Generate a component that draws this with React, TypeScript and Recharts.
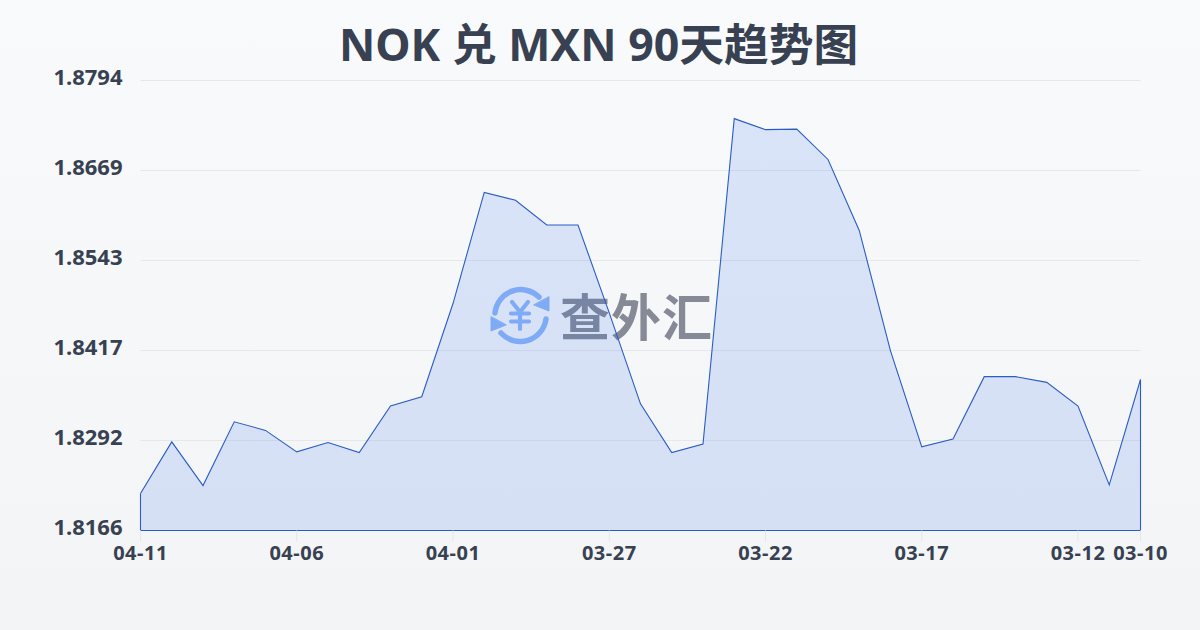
import React from 'react';
import { AreaChart, Area, XAxis, YAxis, CartesianGrid, ReferenceLine } from 'recharts';

const dates = ['04-11','04-10','04-09','04-08','04-07','04-06','04-05','04-04','04-03','04-02','04-01','03-31','03-30','03-29','03-28','03-27','03-26','03-25','03-24','03-23','03-22','03-21','03-20','03-19','03-18','03-17','03-16','03-15','03-14','03-13','03-12','03-11','03-10'];
const rates = [1.8218,1.8290,1.8229,1.8318,1.8306,1.8276,1.8289,1.8275,1.8340,1.8353,1.8483,1.8638,1.8627,1.85925,1.85925,1.8470,1.8343,1.8275,1.8287,1.8741,1.87256,1.87263,1.8684,1.8585,1.8417,1.8283,1.8294,1.8381,1.8381,1.8373,1.8340,1.8230,1.8377];
const xTicks = ['04-11','04-06','04-01','03-27','03-22','03-17','03-12','03-10'];
const yTicks = [1.81663,1.829188,1.841746,1.854304,1.866862,1.87942];
const yMin = 1.81663;
const yMax = 1.87942;
const title = 'NOK 兑 MXN 90天趋势图';
const brand = '查外汇';

const data = dates.map((d, i) => ({ date: d, rate: rates[i] }));
const FONT = '"Noto Sans", "Noto Sans CJK SC", sans-serif';
const LINE = '#2a5cc6';
const INK = '#374151';
const ICON = '#8db6f7';

function Watermark() {
  return (
    <div style={{ position: 'absolute', left: 488, top: 283, display: 'flex', alignItems: 'center' }}>
      <svg width="64" height="64" viewBox="0 0 64 64" fill="none" stroke={ICON} strokeWidth="5.5" strokeLinecap="round" strokeLinejoin="round">
        <path d="M7 30 A26 26 0 0 1 51 14" />
        <path d="M58 36 A26 26 0 0 1 13 50" />
        <path d="M61 14 L61 28 L46 22 Z" fill={ICON} strokeWidth="1" />
        <path d="M3 34 L3 48 L18 42 Z" fill={ICON} strokeWidth="1" />
        <path d="M24 19 L32 29 L40 19 M23 30.5 H41 M23 38.5 H41 M32 29 V46" strokeWidth="4.2" />
      </svg>
      <span style={{ marginLeft: 8, marginTop: -3, fontFamily: '"Noto Sans CJK SC"', fontWeight: 700, fontSize: 50, lineHeight: '64px', color: '#858a96', letterSpacing: 1 }}>{brand}</span>
    </div>
  );
}

export default function App() {
  return (
    <div style={{ position: 'fixed', left: 0, top: 0, width: 1200, height: 630, overflow: 'hidden', background: 'linear-gradient(180deg,#f8fafc 0%,#f3f4f6 100%)' }}>
      <Watermark />
      <div style={{ position: 'absolute', left: -1.5, top: 10, width: 1200, textAlign: 'center', fontFamily: FONT, fontWeight: 700, fontSize: 44.7, lineHeight: '68px', color: INK }}>{title}</div>
      <div style={{ position: 'absolute', left: 0, top: 0 }}>
        <AreaChart width={1200} height={630} data={data} margin={{ top: 80.5, right: 59.5, bottom: 0, left: 0.5 }}>
          <CartesianGrid horizontal vertical={false} stroke="#e5e7eb" strokeWidth={1} />
          <XAxis dataKey="date" scale="point" ticks={xTicks} interval={0} axisLine={false} tickSize={11} tickLine={{ stroke: '#e5e7eb' }} tickMargin={4} height={99.5} tick={{ fontFamily: FONT, fontWeight: 700, fontSize: 20, letterSpacing: 0.5, fill: INK }} />
          <YAxis type="number" domain={[yMin, yMax]} ticks={yTicks} allowDataOverflow width={140} axisLine={false} tickLine={false} tickSize={0} tickMargin={18} tickFormatter={(v: number) => v.toFixed(4)} tick={{ fontFamily: FONT, fontWeight: 700, fontSize: 22, fill: INK, dy: -3 }} />
          <Area type="linear" dataKey="rate" baseValue={yMin} stroke={LINE} strokeWidth={1.1} fill="#2f6bea" fillOpacity={0.15} isAnimationActive={false} dot={false} activeDot={false} />
          <ReferenceLine segment={[{ x: dates[0], y: yMin }, { x: dates[0], y: rates[0] }]} stroke={LINE} strokeWidth={1.1} />
          <ReferenceLine segment={[{ x: dates[dates.length - 1], y: yMin }, { x: dates[dates.length - 1], y: rates[rates.length - 1] }]} stroke={LINE} strokeWidth={1.1} />
          <ReferenceLine segment={[{ x: dates[0], y: yMin }, { x: dates[dates.length - 1], y: yMin }]} stroke={LINE} strokeWidth={1.1} />
        </AreaChart>
      </div>
    </div>
  );
}
